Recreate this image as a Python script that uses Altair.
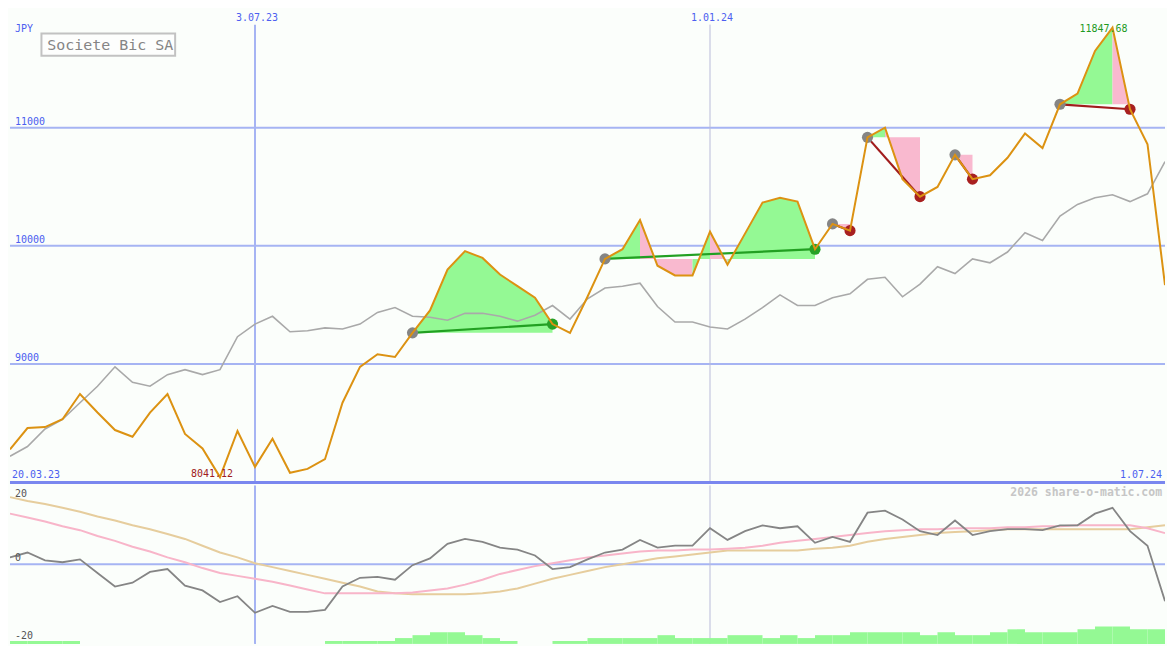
import altair as alt
import pandas as pd

# ---------------- data (weekly) ----------------
week_labels = [d.strftime("%-d.%m.%y") for d in pd.date_range("2023-03-27", periods=67, freq="7D")]

close = [8276, 8457, 8465, 8531, 8745, 8588, 8440, 8383, 8588, 8745,
         8407, 8284, 8041.12, 8432, 8128, 8366, 8078, 8111, 8193, 8671,
         8975, 9082, 9058, 9263, 9453, 9798, 9955, 9897, 9757, 9658,
         9560, 9337, 9263, 9568, 9889, 9971, 10218, 9831, 9749, 9749,
         10119, 9840, 10103, 10366, 10407, 10374, 9971, 10185, 10128, 10918,
         11000, 10564, 10416, 10498, 10770, 10564, 10597, 10745, 10951, 10827,
         11198, 11288, 11650, 11847.68, 11156, 10860, 9667]

bench = [8218, 8300, 8449, 8531, 8671, 8811, 8975, 8844, 8811, 8909,
         8951, 8909, 8951, 9230, 9337, 9403, 9272, 9280, 9305, 9296,
         9337, 9436, 9477, 9403, 9395, 9370, 9428, 9428, 9403, 9362,
         9412, 9494, 9379, 9551, 9642, 9658, 9683, 9486, 9354, 9354,
         9313, 9296, 9379, 9477, 9584, 9494, 9494, 9560, 9593, 9716,
         9733, 9568, 9675, 9823, 9765, 9889, 9856, 9947, 10111, 10045,
         10251, 10350, 10407, 10432, 10374, 10440, 10712]

osc = [1.75, 3.0, 1.0, 0.5, 1.25, -2.25, -5.75, -4.75, -2.0, -1.25,
       -5.5, -6.75, -9.75, -8.25, -12.5, -10.75, -12.25, -12.25, -11.75, -5.75,
       -3.5, -3.25, -4.0, -0.25, 1.5, 5.25, 6.5, 5.75, 4.25, 3.75,
       2.25, -1.25, -0.75, 1.25, 3.0, 3.75, 6.25, 4.25, 4.75, 4.75,
       9.25, 6.25, 8.5, 10.0, 9.25, 9.75, 5.5, 7.0, 5.75, 13.25,
       13.75, 11.5, 8.5, 7.5, 11.25, 7.5, 8.5, 9.0, 9.0, 8.75,
       10.0, 10.0, 13.0, 14.5, 8.5, 4.75, -9.5]

osc_fast = [13.0, 12.0, 11.0, 9.75, 8.75, 7.25, 6.0, 4.5, 3.25, 1.75,
            0.5, -1.0, -2.25, -3.0, -3.75, -4.5, -5.5, -6.5, -7.5, -7.5,
            -7.5, -7.5, -7.5, -7.25, -6.75, -6.25, -5.25, -4.0, -2.5, -1.5,
            -0.5, 0.25, 1.0, 1.75, 2.25, 2.75, 3.25, 3.5, 3.5, 3.75,
            3.75, 4.0, 4.25, 4.75, 5.5, 6.0, 6.5, 7.0, 7.5, 8.0,
            8.5, 8.75, 9.0, 9.0, 9.25, 9.25, 9.25, 9.5, 9.5, 9.75,
            9.75, 10.0, 10.0, 10.0, 10.0, 9.25, 8.0]

osc_slow = [17.25, 16.25, 15.5, 14.5, 13.5, 12.25, 11.25, 10.0, 9.0, 7.75,
            6.5, 4.75, 3.0, 1.75, 0.25, -0.75, -1.75, -2.75, -3.75, -4.75,
            -5.75, -7.0, -7.5, -7.75, -7.75, -7.75, -7.75, -7.5, -7.0, -6.25,
            -5.0, -3.75, -2.75, -1.75, -0.75, 0.0, 0.75, 1.5, 2.0, 2.5,
            3.0, 3.5, 3.5, 3.5, 3.5, 3.5, 4.0, 4.25, 4.75, 5.75,
            6.5, 7.0, 7.5, 8.0, 8.25, 8.5, 8.75, 9.0, 9.0, 9.0,
            9.0, 9.0, 9.0, 9.0, 9.0, 9.5, 10.0]

vol = [1, 1, 1, 1, 0, 0, 0, 0, 0, 0,
       0, 0, 0, 0, 0, 0, 0, 0, 1, 1,
       1, 1, 2, 3, 4, 4, 3, 2, 1, 0,
       0, 1, 1, 2, 2, 2, 2, 3, 2, 2,
       2, 3, 3, 2, 3, 2, 3, 3, 4, 4,
       4, 4, 3, 4, 3, 3, 4, 5, 4, 4,
       4, 5, 6, 6, 5, 5, 5]

# trades: (entry week, exit week, result)
trades = [(23, 31, "win"), (34, 46, "win"), (47, 48, "loss"),
          (49, 52, "loss"), (54, 55, "loss"), (60, 64, "loss")]
# fill parts: (trade number, from week, to week, colour key)
fill_parts = [(0, 23, 31, "up"),
              (1, 34, 36, "up"), (1, 36, 39, "down"), (1, 39, 40, "up"),
              (1, 40, 41, "down"), (1, 41, 46, "up"),
              (2, 47, 48, "down"),
              (3, 49, 50, "up"), (3, 50, 52, "down"),
              (4, 54, 55, "down"),
              (5, 60, 63, "up"), (5, 63, 64, "down")]

y_ticks = [9000, 10000, 11000]
osc_ticks = [(20, 8), (0, -6), (-20, -6)]
vline_labels = ["3.07.23", "1.01.24"]
start_label = "20.03.23"
end_label = week_labels[-1]
title_text = "Societe Bic SA"
currency = "JPY"
watermark = "2026 share-o-matic.com"

# ---------------- styling ----------------
W, H1, H2 = 1159, 475, 159
SX = W / 1175
SY = (H1 + H2) / 650
FONT = "DejaVu Sans Mono"
BG = "#fbfefb"
GRID = "#a6b4f3"
SEP = "#7a87ef"
BLUE = "#4d5ff0"
ORANGE = "#dc9212"
FILL = {"up": "#94f994", "down": "#f9b9cf"}
LINE = {"win": "#22a022", "loss": "#a11c1c"}
DOT = {"entry": "#858585", "win": "#27a127", "loss": "#a82020"}

n = len(close)
idx = list(range(n))
x_scale = alt.Scale(domain=[0, n - 1], nice=False, zero=False)
y_main = alt.Scale(domain=[7996, 12004], nice=False, zero=False)
y_osc = alt.Scale(domain=[-20.5, 20.25], nice=False, zero=False)
y_vol = alt.Scale(domain=[0, 163 / 3], nice=False, zero=False)


def X(f="i"):
    return alt.X(f"{f}:Q", scale=x_scale, axis=None)


main_df = pd.DataFrame({"i": idx, "close": close, "bench": bench})
low_df = pd.DataFrame({"i": idx, "i2": [i + 1 for i in idx], "osc": osc,
                       "fast": osc_fast, "slow": osc_slow, "vol": vol})

fill_rows = []
for k, (t, s, e, c) in enumerate(fill_parts):
    base = close[trades[t][0]]
    for i in range(s, e + 1):
        fill_rows.append({"i": i, "v": close[i], "base": base, "seg": k, "fill": FILL[c]})
fill_df = pd.DataFrame(fill_rows)

conn_rows, dot_rows = [], []
for t, (a, b, res) in enumerate(trades):
    for i in (a, b):
        conn_rows.append({"i": i, "v": close[i], "t": t, "col": LINE[res]})
    dot_rows.append({"i": a, "v": close[a], "col": DOT["entry"]})
    dot_rows.append({"i": b, "v": close[b], "col": DOT[res]})
conn_df = pd.DataFrame(conn_rows)
dot_df = pd.DataFrame(dot_rows)

vl_df = pd.DataFrame({"i": [week_labels.index(l) for l in vline_labels],
                      "lab": vline_labels,
                      "sw": [2, 1],
                      "col": [GRID, "#b9bcd9"]})

i_min = close.index(min(close))
i_max = close.index(max(close))
one = pd.DataFrame({"a": [0]})

# ---------------- main panel ----------------
grid = alt.Chart(pd.DataFrame({"v": y_ticks})).mark_rule(color=GRID, strokeWidth=2).encode(
    y=alt.Y("v:Q", scale=y_main, axis=None))
grid_lab = alt.Chart(pd.DataFrame({"v": y_ticks, "lab": [str(v) for v in y_ticks]})).mark_text(
    align="left", baseline="middle", dy=-6, font=FONT, fontSize=10, color=BLUE).encode(
    x=alt.value(5 * SX), y=alt.Y("v:Q", scale=y_main, axis=None), text="lab:N")
sep = alt.Chart(one).mark_rule(color=SEP, strokeWidth=3).encode(
    x=alt.value(0), x2=alt.value(W), y=alt.value(H1))
vlines = alt.Chart(vl_df).mark_rule().encode(
    x=X(), y=alt.value(16 * SY), y2=alt.value(H1),
    color=alt.Color("col:N", scale=None), strokeWidth=alt.StrokeWidth("sw:Q", scale=None))
vl_text = alt.Chart(vl_df).mark_text(baseline="middle", dx=2, font=FONT, fontSize=10, color=BLUE).encode(
    x=X(), y=alt.value(9 * SY), text="lab:N")
fills = alt.Chart(fill_df).mark_area(opacity=1, interpolate="linear", clip=True).encode(
    x=X(), y=alt.Y("v:Q", scale=y_main, axis=None, stack=None), y2="base:Q",
    detail="seg:N", color=alt.Color("fill:N", scale=None))
bench_line = alt.Chart(main_df).mark_line(color="#a9a9a9", strokeWidth=1.6, clip=True).encode(
    x=X(), y=alt.Y("bench:Q", scale=y_main, axis=None))
conn = alt.Chart(conn_df).mark_line(strokeWidth=2.2, clip=True).encode(
    x=X(), y=alt.Y("v:Q", scale=y_main, axis=None), detail="t:N",
    color=alt.Color("col:N", scale=None))
dots = alt.Chart(dot_df).mark_circle(size=125, opacity=1, clip=True).encode(
    x=X(), y=alt.Y("v:Q", scale=y_main, axis=None), color=alt.Color("col:N", scale=None))
close_line = alt.Chart(main_df).mark_line(color=ORANGE, strokeWidth=2, clip=True).encode(
    x=X(), y=alt.Y("close:Q", scale=y_main, axis=None))
min_lab = alt.Chart(pd.DataFrame({"i": [i_min], "v": [close[i_min]], "lab": [f"{close[i_min]:.2f}"]})).mark_text(
    baseline="middle", dx=-8, dy=-3, font=FONT, fontSize=10, color="#a01c1c").encode(
    x=X(), y=alt.Y("v:Q", scale=y_main, axis=None), text="lab:N")
max_lab = alt.Chart(pd.DataFrame({"i": [i_max], "v": [close[i_max]], "lab": [f"{close[i_max]:.2f}"]})).mark_text(
    baseline="middle", dx=-9, dy=1, font=FONT, fontSize=10, color="#1f9a1f").encode(
    x=X(), y=alt.Y("v:Q", scale=y_main, axis=None), text="lab:N")
jpy = alt.Chart(one).mark_text(align="left", baseline="middle", font=FONT, fontSize=10, color=BLUE,
                               text=currency).encode(x=alt.value(5 * SX), y=alt.value(20 * SY))
start_t = alt.Chart(one).mark_text(align="left", baseline="middle", font=FONT, fontSize=10, color=BLUE,
                                   text=start_label).encode(x=alt.value(2 * SX), y=alt.value(479 * SY))
end_t = alt.Chart(one).mark_text(align="right", baseline="middle", font=FONT, fontSize=10, color=BLUE,
                                 text=end_label).encode(x=alt.value(1172 * SX), y=alt.value(479 * SY))
box = alt.Chart(one).mark_rect(fill="#fdfefd", stroke="#c2c2c2", strokeWidth=2).encode(
    x=alt.value(32 * SX), x2=alt.value(168 * SX), y=alt.value(25 * SY), y2=alt.value(48 * SY))
title = alt.Chart(one).mark_text(align="left", baseline="middle", font=FONT, fontSize=15, color="#858585",
                                 text=title_text).encode(x=alt.value(38 * SX), y=alt.value(37 * SY))

main = alt.layer(grid, vlines, fills, bench_line, conn, dots, close_line, grid_lab, vl_text,
                 min_lab, max_lab, jpy, start_t, end_t, box, title, sep).properties(width=W, height=H1)

# ---------------- lower panel ----------------
zero = alt.Chart(pd.DataFrame({"v": [0]})).mark_rule(color=GRID, strokeWidth=2).encode(
    y=alt.Y("v:Q", scale=y_osc, axis=None))
vlines2 = alt.Chart(vl_df).mark_rule().encode(
    x=X(), color=alt.Color("col:N", scale=None), strokeWidth=alt.StrokeWidth("sw:Q", scale=None))
bars = alt.Chart(low_df).mark_rect(color="#94f994", clip=True).encode(
    x=X(), x2="i2:Q", y=alt.Y("vol:Q", scale=y_vol, axis=None), y2=alt.datum(0))
slow_l = alt.Chart(low_df).mark_line(color="#e6cd9d", strokeWidth=2, clip=True).encode(
    x=X(), y=alt.Y("slow:Q", scale=y_osc, axis=None))
fast_l = alt.Chart(low_df).mark_line(color="#f8b5c9", strokeWidth=2, clip=True).encode(
    x=X(), y=alt.Y("fast:Q", scale=y_osc, axis=None))
osc_l = alt.Chart(low_df).mark_line(color="#858585", strokeWidth=1.8, clip=True).encode(
    x=X(), y=alt.Y("osc:Q", scale=y_osc, axis=None))
osc_labs = [alt.Chart(pd.DataFrame({"v": [v], "lab": [str(v)]})).mark_text(
    align="left", baseline="middle", dy=dy, font=FONT, fontSize=10, color="#555555").encode(
    x=alt.value(5 * SX), y=alt.Y("v:Q", scale=y_osc, axis=None), text="lab:N") for v, dy in osc_ticks]
wm = alt.Chart(one).mark_text(align="right", baseline="middle", font=FONT, fontSize=11.5, fontWeight="bold",
                              color="#c6c6c6", text=watermark).encode(
    x=alt.value(1172 * SX), y=alt.value(8 * SY))

lower = alt.layer(zero, vlines2, bars, slow_l, fast_l, osc_l, *osc_labs, wm).resolve_scale(
    y="independent").properties(width=W, height=H2)

chart = alt.vconcat(main, lower, spacing=0, padding=0, background=BG).configure_view(stroke=None)
chart.save("out.html", embed_options={"renderer": "svg", "actions": False})
